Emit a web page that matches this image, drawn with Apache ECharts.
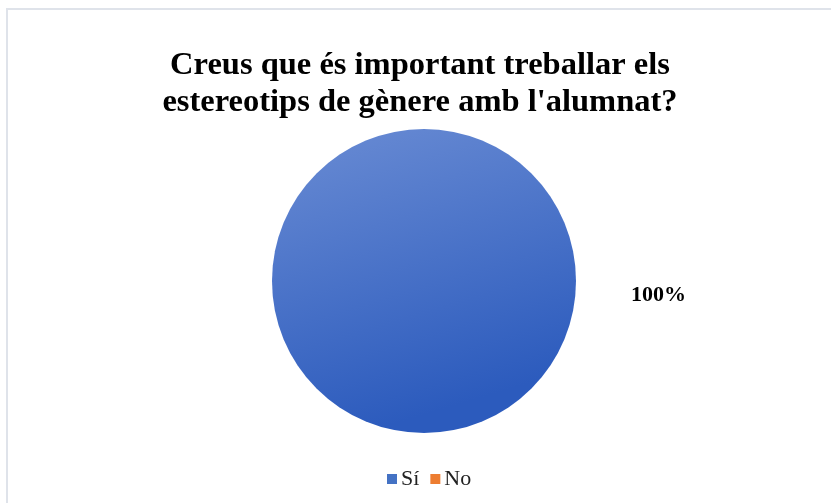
<!DOCTYPE html>
<html>
<head>
<meta charset="utf-8">
<script src="https://cdn.jsdelivr.net/npm/echarts@6/dist/echarts.min.js"></script>
<style>
html,body{margin:0;padding:0;background:#fff;}
#c{width:831px;height:503px;position:absolute;left:0;top:0;}
#frame{position:absolute;left:6px;top:8px;right:0;bottom:0;border-left:2px solid #dfe3ea;border-top:2px solid #dfe3ea;pointer-events:none;}
</style>
</head>
<body>
<div id="c"></div>
<div id="frame"></div>
<script>
const titleText = "Creus que és important treballar els\nestereotips de gènere amb l'alumnat?";
const categories = ["Sí", "No"];
const values = [100, 0];
const labels = ["100%", "0%"];
const colors = ["#4472c4", "#ed7d31"];

const chart = echarts.init(document.getElementById('c'));
const data = categories.map((name, i) => {
  const item = { name: name, value: values[i], itemStyle: { color: colors[i] } };
  if (i === 0) {
    item.itemStyle.color = new echarts.graphic.LinearGradient(0, 0, 0.3, 1, [
      { offset: 0, color: '#6a8cd4' },
      { offset: 1, color: '#2c5bbd' }
    ]);
  }
  if (values[i] === 0) item.label = { show: false };
  return item;
});
chart.setOption({
  backgroundColor: '#fff',
  animation: false,
  title: {
    text: titleText,
    left: 415, top: 42, textAlign: 'center',
    textStyle: { fontFamily: 'Liberation Serif', fontWeight: 'bold', fontSize: 32.5, color: '#000', lineHeight: 37 }
  },
  legend: {
    data: categories.map((n, i) => ({ name: n, itemStyle: { color: colors[i] } })),
    top: 463, left: 382,
    itemWidth: 10, itemHeight: 10, itemGap: 11, icon: 'rect',
    textStyle: { fontFamily: 'Liberation Serif', fontSize: 22, color: '#222', padding: [0,0,0,-1] }
  },
  series: [{
    type: 'pie',
    center: [424, 281],
    radius: [0, 152],
    startAngle: 180,
    clockwise: true,
    stillShowZeroSum: false,
    label: {
      show: true, position: 'outside',
      formatter: (p) => labels[p.dataIndex],
      fontFamily: 'Liberation Serif', fontWeight: 'bold', fontSize: 22, color: '#000'
    },
    labelLine: { show: false, length: 50, length2: 0 },
    labelLayout: { dy: 14 },
    data: data
  }]
});
</script>
</body>
</html>
